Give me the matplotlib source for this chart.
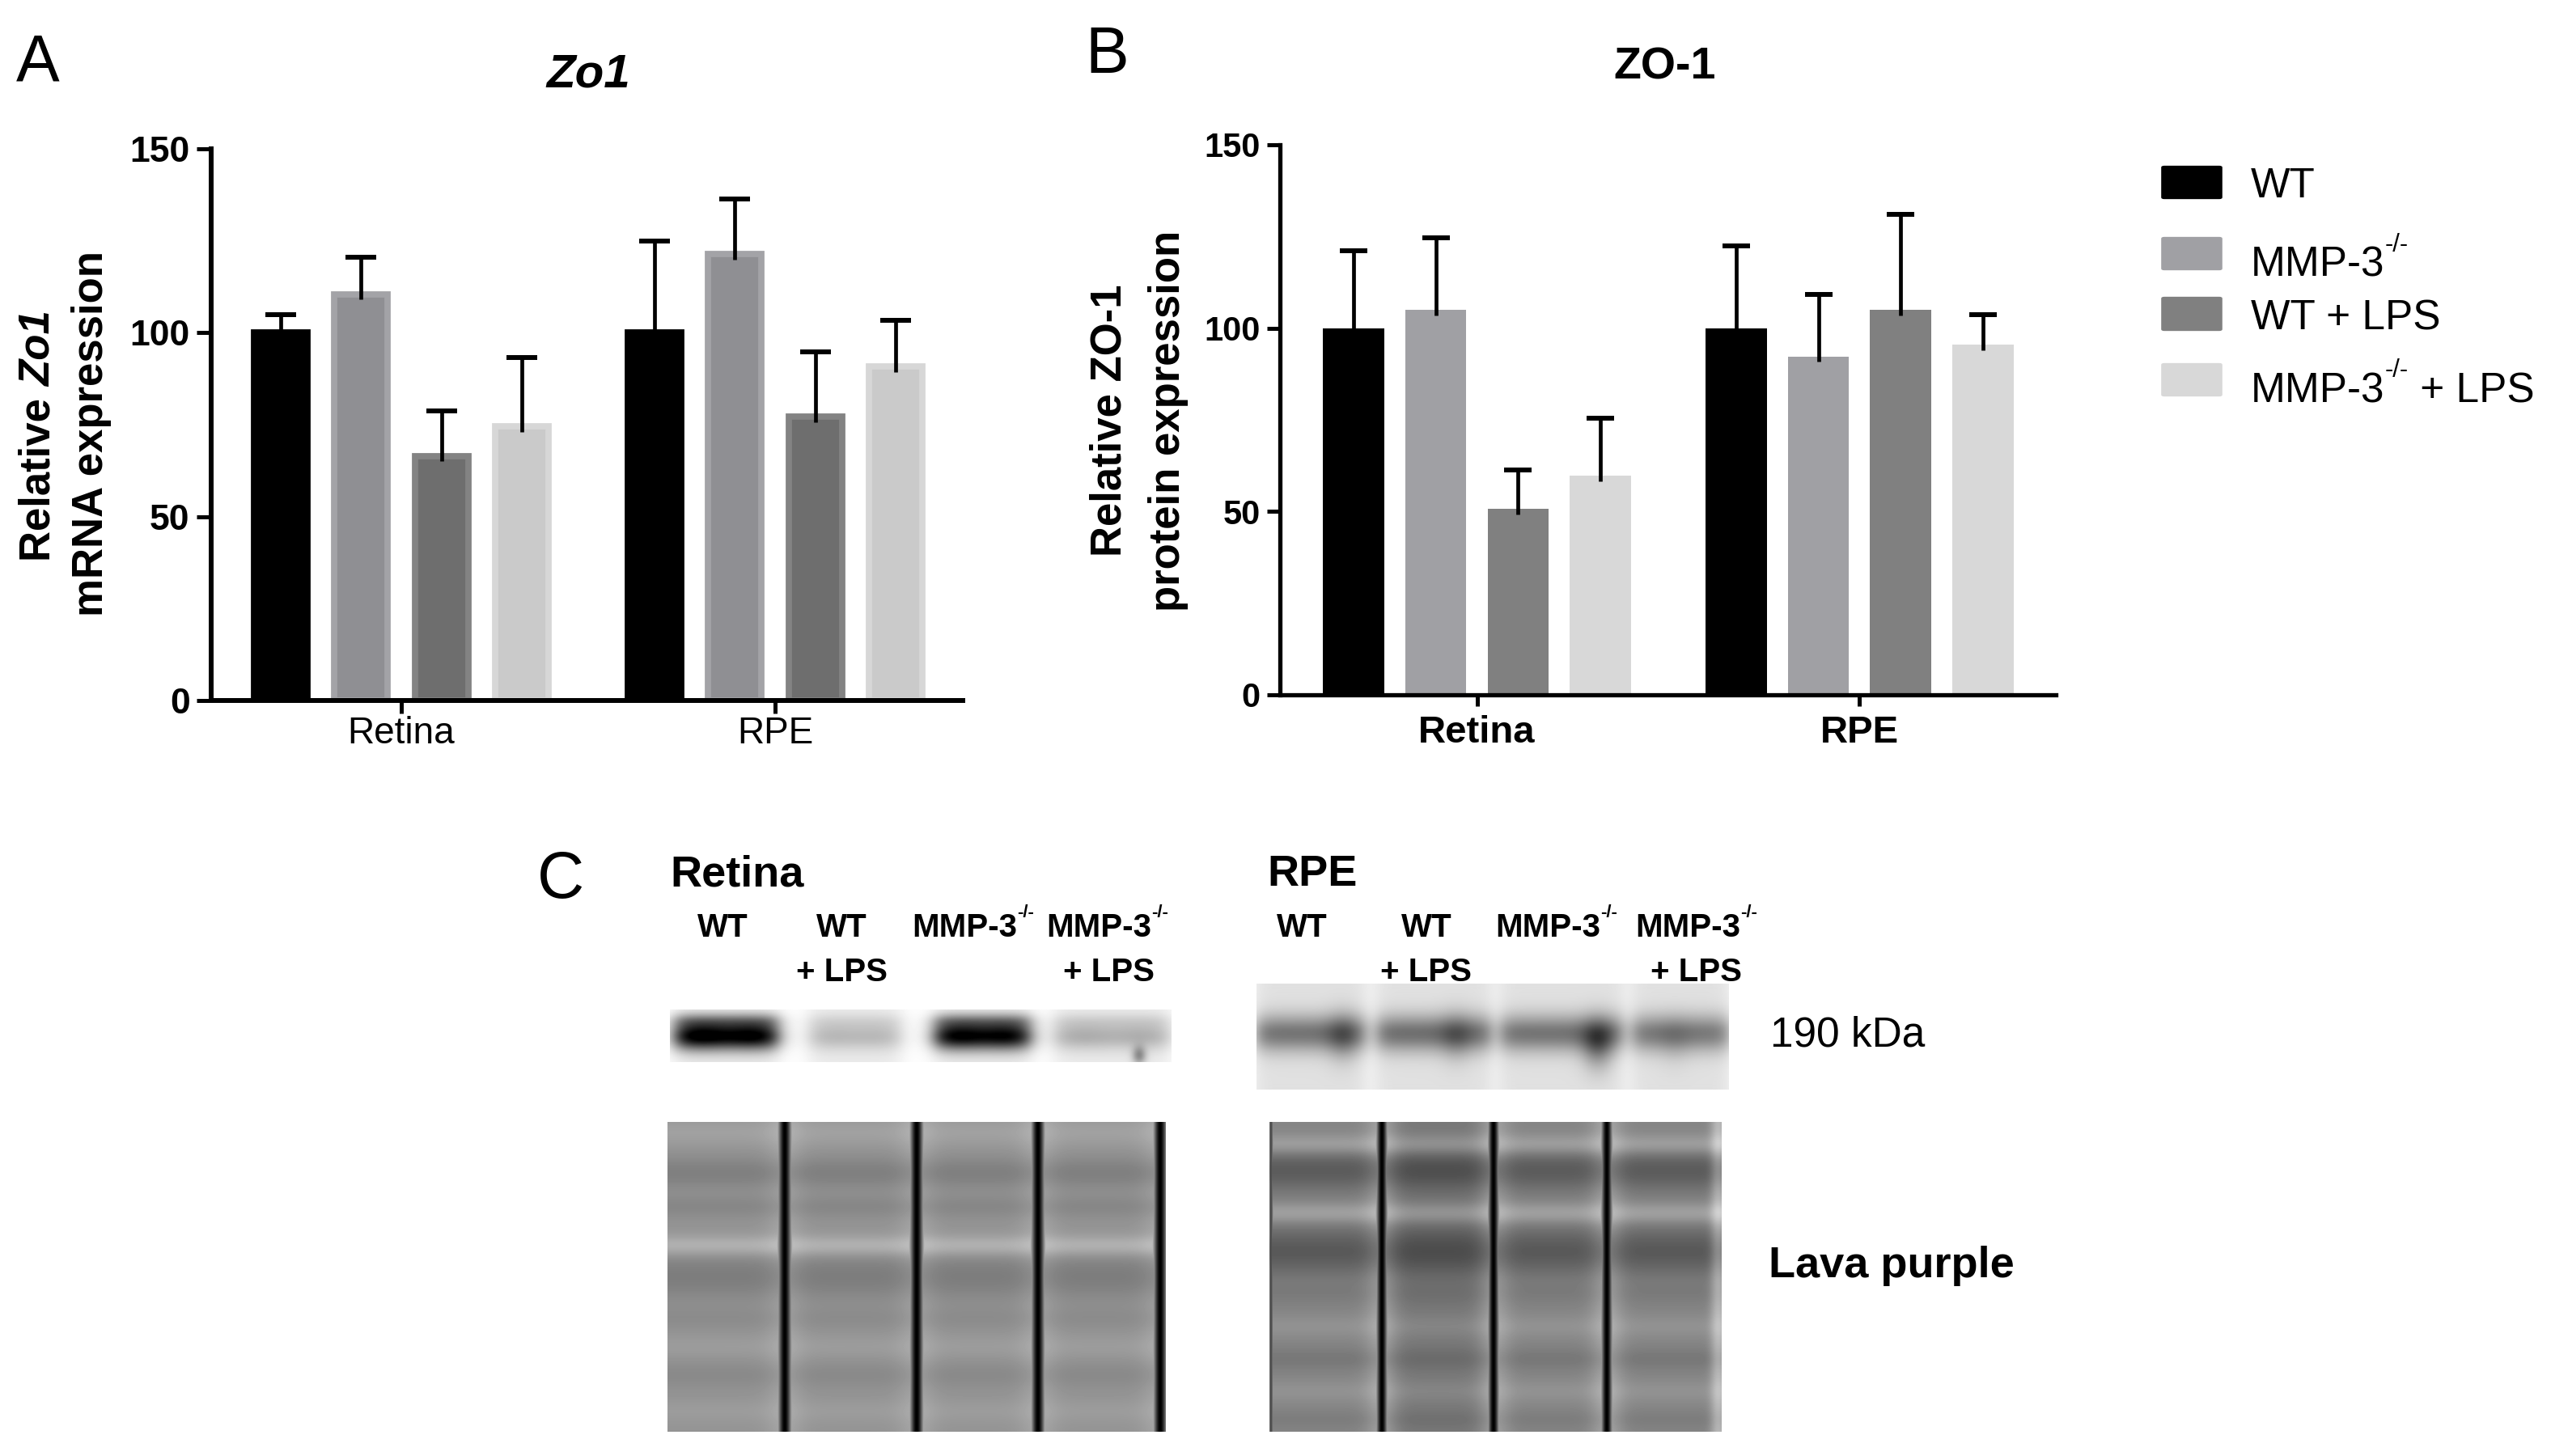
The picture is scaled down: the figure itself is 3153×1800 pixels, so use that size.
import numpy as np
import matplotlib
matplotlib.use('Agg')
import matplotlib.pyplot as plt
from matplotlib.patches import FancyBboxPatch

W, H, DPI = 3153, 1800, 100
plt.rcParams['font.family'] = ['Liberation Sans', 'DejaVu Sans']

# ---------------- data ----------------
groups = ['Retina', 'RPE']
conditions = ['WT', 'MMP-3-/-', 'WT + LPS', 'MMP-3-/- + LPS']
yticks = [0, 50, 100, 150]

# Panel A: Zo1 mRNA (mean, upper error)
mrna_retina = [100, 110.5, 66.5, 74.5]
mrna_retina_err = [5, 10, 12.3, 18.7]
mrna_rpe = [100, 121.3, 77.2, 90.8]
mrna_rpe_err = [25, 15, 17.6, 12.5]

# Panel B: ZO-1 protein (mean, upper error)
prot_retina = [100, 105, 50.7, 59.8]
prot_retina_err = [21, 19.7, 10.6, 15.7]
prot_rpe = [100, 92.3, 105, 95.5]
prot_rpe_err = [22.5, 17, 26, 8.1]

# Panel C: blot band strengths (relative darkness)
retina_zo1_band = [1.0, 0.2, 0.95, 0.24]
rpe_zo1_band = [0.42, 0.44, 0.42, 0.40]
retina_lava_bands = [(1400, -0.05, 12), (1450, 0.08, 14), (1492, 0.05, 10), (1540, -0.12, 9),
                     (1578, 0.09, 20), (1630, 0.03, 10), (1665, -0.03, 10), (1700, 0.04, 12),
                     (1745, -0.03, 10)]
rpe_lava_bands = [(1415, -0.12, 9), (1447, 0.16, 18), (1500, -0.12, 9), (1547, 0.17, 22),
                  (1600, 0.03, 10), (1640, -0.05, 10), (1680, 0.05, 10), (1720, -0.05, 10),
                  (1755, 0.03, 8)]

fill_A = ['#000000', '#8f8f93', '#6e6e6e', '#cacaca']
edge_A = ['#000000', '#a3a3a7', '#838383', '#d7d7d7']
fill_B = ['#000000', '#a0a0a4', '#808080', '#d8d8d8']


def fx(x):
    return x / W


def fy(y):
    return 1 - y / H


fig = plt.figure(figsize=(W / DPI, H / DPI), dpi=DPI)
fig.patch.set_facecolor('white')
ov = fig.add_axes([0, 0, 1, 1])
ov.axis('off')
ov.set_zorder(10)


def bar_panel(rect, xlim, vals, errs, fills, edges, edge_lw, width, step, cap_half,
              spine_lw, tick_pad_y, tick_pad_x, xlab_size, xlab_weight, xtick_len, ytick_len,
              ytick_size):
    x0, y_top, x1, y_bot = rect
    ax = fig.add_axes([fx(x0), fy(y_bot), (x1 - x0) / W, (y_bot - y_top) / H])
    xc = np.arange(len(groups))
    for i in range(4):
        xs = xc + (i - 1.5) * step
        v = np.array([vals[g][i] for g in range(len(groups))])
        e = np.array([errs[g][i] for g in range(len(groups))])
        ax.bar(xs, v, width=width, color=fills[i], edgecolor=edges[i], linewidth=edge_lw, zorder=2)
        tops = v + e
        ax.vlines(xs, v - 1.5, tops, color='black', linewidth=3.4, zorder=3, capstyle='butt')
        ax.hlines(tops, xs - cap_half, xs + cap_half, color='black', linewidth=4.3, zorder=3,
                  capstyle='butt')
    ax.set_xlim(*xlim)
    ax.set_ylim(0, 150)
    for s in ['top', 'right']:
        ax.spines[s].set_visible(False)
    for s in ['left', 'bottom']:
        ax.spines[s].set_linewidth(spine_lw)
        ax.spines[s].set_zorder(4)
    ax.set_yticks(yticks)
    ax.set_yticklabels([str(t) for t in yticks], fontsize=ytick_size, fontweight='bold')
    ax.set_xticks(xc)
    ax.set_xticklabels(groups, fontsize=xlab_size, fontweight=xlab_weight)
    ax.tick_params(axis='y', direction='out', length=ytick_len, width=3.6, pad=tick_pad_y)
    ax.tick_params(axis='x', direction='out', length=xtick_len, width=3.6, pad=tick_pad_x)
    ax.patch.set_alpha(0)
    return ax


# Panel A
bar_panel((261, 184, 1190, 866), (-0.5087, 1.502),
          [mrna_retina, mrna_rpe], [mrna_retina_err, mrna_rpe_err],
          fill_A, edge_A, 5.6, 0.143, 0.2154, 0.041, 4.3, 6, 2, 33, 'normal', 11.5, 13, 32)
# Panel B
bar_panel((1582, 179, 2541, 859), (-0.515, 1.513),
          [prot_retina, prot_rpe], [prot_retina_err, prot_rpe_err],
          fill_B, fill_B, 0.0, 0.160, 0.2152, 0.036, 3.8, 6, 8, 34, 'bold', 10, 11.5, 30)

# panel letters
for letter, x, y in [('A', 20, 100), ('B', 1341, 90), ('C', 664, 1110)]:
    fig.text(fx(x), fy(y), letter, fontsize=58, ha='left', va='baseline')

# titles
fig.text(fx(727), fy(108), 'Zo1', fontsize=42, fontweight='bold', fontstyle='italic',
         ha='center', va='baseline')
fig.text(fx(2058), fy(98), 'ZO-1', fontsize=40, fontweight='bold', ha='center', va='baseline')

# y labels
t1 = fig.text(fx(48), fy(694), 'Relative ', rotation=90, ha='center', va='bottom',
              fontsize=38, fontweight='bold')
ov.annotate('Zo1', xy=(0.5, 1), xycoords=t1, rotation=90, ha='center', va='bottom',
            fontsize=38, fontweight='bold', fontstyle='italic')
fig.text(fx(113), fy(536), 'mRNA expression', rotation=90, ha='center', va='center',
         fontsize=38, fontweight='bold')
fig.text(fx(1372), fy(520), 'Relative ZO-1', rotation=90, ha='center', va='center',
         fontsize=38, fontweight='bold')
fig.text(fx(1444), fy(520), 'protein expression', rotation=90, ha='center', va='center',
         fontsize=38, fontweight='bold')


def sup_label(x, y, main, sup, size, weight='normal', tail=None, ha='left', rise=0.72,
              scale=0.6):
    t = fig.text(fx(x), fy(y), main, fontsize=size, fontweight=weight, ha=ha, va='baseline')
    s = ov.annotate(sup, xy=(1, rise), xycoords=t, ha='left', va='bottom',
                    fontsize=size * scale, fontweight=weight)
    if tail:
        ov.annotate(tail, xy=(1, 0), xycoords=(s, t), ha='left', va='bottom',
                    fontsize=size, fontweight=weight)
    return t


# legend
leg_boxes = [(203, 248), (291, 336), (365, 411), (447, 492)]
leg_base = [244, 342, 407, 497]
for (ya, yb), c in zip(leg_boxes, fill_B):
    fig.patches.append(FancyBboxPatch((fx(2675), fy(yb - 4)), (2743 - 2675) / W, (yb - ya - 8) / H,
                                      boxstyle='round,pad=0.0012', transform=fig.transFigure,
                                      facecolor=c, edgecolor=c, linewidth=0))
fig.text(fx(2782), fy(leg_base[0]), 'WT', fontsize=37, va='baseline')
sup_label(2782, leg_base[1], 'MMP-3', '-/-', 37)
fig.text(fx(2782), fy(leg_base[2]), 'WT + LPS', fontsize=37, va='baseline')
sup_label(2782, leg_base[3], 'MMP-3', '-/-', 37, tail=' + LPS')

# Panel C text
fig.text(fx(828), fy(1095), 'Retina', fontsize=39, fontweight='bold', va='baseline')
fig.text(fx(1566), fy(1095), 'RPE', fontsize=39, fontweight='bold', va='baseline')
lane_fs = 29
for cx in [893, 1609]:
    fig.text(fx(cx), fy(1158), 'WT', fontsize=lane_fs, fontweight='bold', ha='center', va='baseline')
for cx in [1040, 1763]:
    fig.text(fx(cx), fy(1158), 'WT', fontsize=lane_fs, fontweight='bold', ha='center', va='baseline')
    fig.text(fx(cx), fy(1213), '+ LPS', fontsize=lane_fs, fontweight='bold', ha='center',
             va='baseline')
for lx in [1127, 1848]:
    sup_label(lx, 1158, 'MMP-3', '-/-', lane_fs, weight='bold', scale=0.55)
for lx, cx in [(1293, 1370), (2021, 2096)]:
    sup_label(lx, 1158, 'MMP-3', '-/-', lane_fs, weight='bold', scale=0.55)
    fig.text(fx(cx), fy(1213), '+ LPS', fontsize=lane_fs, fontweight='bold', ha='center',
             va='baseline')
fig.text(fx(2188), fy(1293), '190 kDa', fontsize=37, va='baseline')
fig.text(fx(2186), fy(1579), 'Lava purple', fontsize=39, fontweight='bold', va='baseline')


# ---------------- blot images ----------------
def lane_mask(X, a, b, soft):
    return 1 / (1 + np.exp(-(X - a) / soft)) / (1 + np.exp((X - b) / soft))


def show_img(x0, x1, y0, y1, dark):
    ax = fig.add_axes([fx(x0), fy(y1), (x1 - x0) / W, (y1 - y0) / H])
    ax.imshow(1 - np.clip(dark, 0, 1), cmap='gray', vmin=0, vmax=1, aspect='auto',
              interpolation='bilinear')
    ax.axis('off')


def grid(x0, x1, y0, y1):
    return np.meshgrid(np.arange(x0, x1) + 0.5, np.arange(y0, y1) + 0.5)


# Retina ZO-1 blot
x0, x1, y0, y1 = 828, 1448, 1248, 1313
X, Y = grid(x0, x1, y0, y1)
dark = np.zeros_like(X)
retina_lanes = [(834, 962), (1000, 1114), (1155, 1274), (1303, 1446)]
for (a, b), s in zip(retina_lanes, retina_zo1_band):
    m = lane_mask(X, a, b, 7)
    lobe = 0.85 + 0.15 * np.exp(-0.5 * ((X - (a + 0.25 * (b - a))) / 25) ** 2) \
        + 0.12 * np.exp(-0.5 * ((X - (a + 0.75 * (b - a))) / 20) ** 2)
    dark += m * (0.08 + s * lobe * np.exp(-0.5 * ((Y - 1281) / 12) ** 2)
                 + 0.3 * s * np.exp(-0.5 * ((Y - 1262) / 7) ** 2))
dark += 0.35 * np.exp(-0.5 * (((X - 1408) / 6) ** 2 + ((Y - 1305) / 8) ** 2))
show_img(x0, x1, y0, y1, dark)

# RPE ZO-1 blot
x0, x1, y0, y1 = 1553, 2137, 1216, 1347
X, Y = grid(x0, x1, y0, y1)
dark = np.full(X.shape, 0.03)
rpe_lanes = [(1553, 1688), (1702, 1843), (1855, 2006), (2018, 2137)]
rpe_spots = [(1660, 1283, 0.18), (1800, 1283, 0.14), (1975, 1292, 0.32), (2070, 1290, 0.06)]
for (a, b), s, (sx, sy, ss) in zip(rpe_lanes, rpe_zo1_band, rpe_spots):
    m = lane_mask(X, a, b, 6)
    dark += m * (0.09 + s * np.exp(-0.5 * ((Y - 1278) / 16) ** 2)
                 + ss * np.exp(-0.5 * (((X - sx) / 14) ** 2 + ((Y - sy) / 22) ** 2)))
show_img(x0, x1, y0, y1, dark)

# Lava purple Retina
x0, x1, y0, y1 = 825, 1441, 1387, 1770
X, Y = grid(x0, x1, y0, y1)
dark = np.full(X.shape, 0.42)
for yc, d, sg in retina_lava_bands:
    dark += d * np.exp(-0.5 * ((Y - yc) / sg) ** 2)
for cx in [970, 1133, 1283, 1434]:
    dark -= 0.06 * np.exp(-0.5 * ((X - cx) / 16) ** 2)
    dark = np.maximum(dark, np.exp(-0.5 * ((X - cx) / 6.0) ** 2))
show_img(x0, x1, y0, y1, dark)

# Lava purple RPE
x0, x1, y0, y1 = 1569, 2128, 1387, 1770
X, Y = grid(x0, x1, y0, y1)
dark = np.full(X.shape, 0.48)
for yc, d, sg in rpe_lava_bands:
    dark += d * np.exp(-0.5 * ((Y - yc) / sg) ** 2)
dark += 0.05 * lane_mask(X, 1712, 1846, 8)
for cx in [1708, 1846, 1986]:
    dark -= 0.12 * np.exp(-0.5 * ((X - cx) / 14) ** 2)
    dark = np.maximum(dark, np.exp(-0.5 * ((X - cx) / 5.0) ** 2))
dark -= 0.2 * np.exp(-0.5 * ((X - 2124) / 7) ** 2)
dark = np.maximum(dark, 0.7 * np.exp(-0.5 * ((X - 1571) / 2.5) ** 2))
show_img(x0, x1, y0, y1, dark)

fig.savefig('out.png', dpi=DPI, facecolor='white')
